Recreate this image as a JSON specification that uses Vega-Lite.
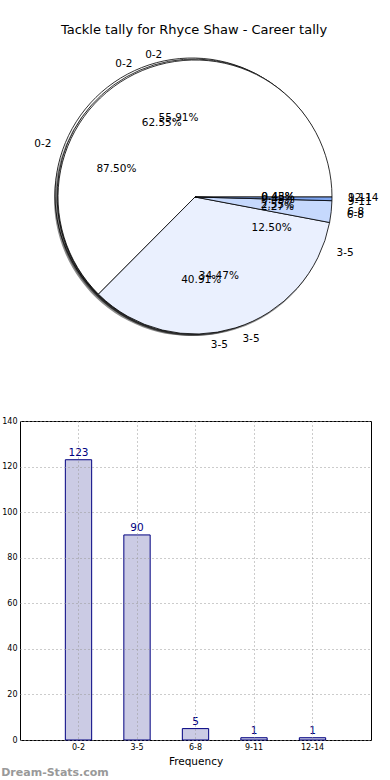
{
  "$schema": "https://vega.github.io/schema/vega-lite/v6.json",
  "padding": {"left": 1, "top": 24, "right": 0, "bottom": 0},
  "bounds": "flush",
  "spacing": 75,
  "config": {
    "font": "DejaVu Sans",
    "view": {"stroke": null},
    "title": {"font": "DejaVu Sans", "fontWeight": "normal", "color": "black"}
  },
  "title": {"text": "Dream-Stats.com", "orient": "bottom", "anchor": "start", "color": "#999999", "fontSize": 11, "fontWeight": "bold", "offset": 0},
  "datasets": {
    "pie": [
      {"pie": "A", "bin": "0-2", "i": 1, "value": 87.50, "pct": "87.50%"},
      {"pie": "A", "bin": "3-5", "i": 2, "value": 12.50, "pct": "12.50%"},
      {"pie": "B", "bin": "0-2", "i": 1, "value": 55.91, "pct": "55.91%"},
      {"pie": "B", "bin": "3-5", "i": 2, "value": 40.91, "pct": "40.91%"},
      {"pie": "B", "bin": "6-8", "i": 3, "value": 2.27, "pct": "2.27%"},
      {"pie": "B", "bin": "9-11", "i": 4, "value": 0.45, "pct": "0.45%"},
      {"pie": "B", "bin": "12-14", "i": 5, "value": 0.45, "pct": "0.45%"},
      {"pie": "C", "bin": "0-2", "i": 1, "value": 62.55, "pct": "62.55%"},
      {"pie": "C", "bin": "3-5", "i": 2, "value": 34.47, "pct": "34.47%"},
      {"pie": "C", "bin": "6-8", "i": 3, "value": 2.55, "pct": "2.55%"},
      {"pie": "C", "bin": "9-11", "i": 4, "value": 0.43, "pct": "0.43%"}
    ],
    "bars": [
      {"bin": "0-2", "count": 123},
      {"bin": "3-5", "count": 90},
      {"bin": "6-8", "count": 5},
      {"bin": "9-11", "count": 1},
      {"bin": "12-14", "count": 1}
    ]
  },
  "vconcat": [
    {
      "width": 348,
      "height": 300,
      "title": {"text": "Tackle tally for Rhyce Shaw - Career tally", "fontSize": 13, "offset": 9},
      "layer": [
        {"data": {"name": "pie"}, "transform": [{"filter": "datum.pie === 'A'"}],
         "mark": {"type": "arc", "radius": 137, "fill": "#000000", "opacity": 0.45, "xOffset": -3, "yOffset": 3},
         "encoding": {"theta": {"field": "value", "type": "quantitative", "stack": true, "scale": {"domain": [0, 100], "range": [1.5707963, -4.712389]}}, "order": {"field": "i", "type": "quantitative"}}},
        {"data": {"name": "pie"}, "transform": [{"filter": "datum.pie === 'A'"}],
         "mark": {"type": "arc", "radius": 137, "stroke": "black", "strokeWidth": 0.8, "xOffset": -2, "yOffset": -1},
         "encoding": {"theta": {"field": "value", "type": "quantitative", "stack": true, "scale": {"domain": [0, 100], "range": [1.5707963, -4.712389]}}, "order": {"field": "i", "type": "quantitative"},
           "color": {"field": "bin", "type": "nominal", "legend": null, "scale": {"domain": ["0-2", "3-5", "6-8", "9-11", "12-14"], "range": ["#ffffff", "#eaf0fe", "#c6d9fd", "#7fa6f0", "#4a78d8"]}}}},
        {"data": {"name": "pie"}, "transform": [{"filter": "datum.pie === 'B'"}],
         "mark": {"type": "arc", "radius": 137, "fill": "#000000", "opacity": 0.45, "xOffset": -2, "yOffset": 2},
         "encoding": {"theta": {"field": "value", "type": "quantitative", "stack": true, "scale": {"domain": [0, 100], "range": [1.5707963, -4.712389]}}, "order": {"field": "i", "type": "quantitative"}}},
        {"data": {"name": "pie"}, "transform": [{"filter": "datum.pie === 'B'"}],
         "mark": {"type": "arc", "radius": 137, "stroke": "black", "strokeWidth": 0.8, "xOffset": 0, "yOffset": 0},
         "encoding": {"theta": {"field": "value", "type": "quantitative", "stack": true, "scale": {"domain": [0, 100], "range": [1.5707963, -4.712389]}}, "order": {"field": "i", "type": "quantitative"},
           "color": {"field": "bin", "type": "nominal", "legend": null, "scale": {"domain": ["0-2", "3-5", "6-8", "9-11", "12-14"], "range": ["#ffffff", "#eaf0fe", "#c6d9fd", "#7fa6f0", "#4a78d8"]}}}},
        {"data": {"name": "pie"}, "transform": [{"filter": "datum.pie === 'C'"}],
         "mark": {"type": "arc", "radius": 137, "fill": "#000000", "opacity": 0.45, "xOffset": 0, "yOffset": 3},
         "encoding": {"theta": {"field": "value", "type": "quantitative", "stack": true, "scale": {"domain": [0, 100], "range": [1.5707963, -4.712389]}}, "order": {"field": "i", "type": "quantitative"}}},
        {"data": {"name": "pie"}, "transform": [{"filter": "datum.pie === 'C'"}],
         "mark": {"type": "arc", "radius": 137, "stroke": "black", "strokeWidth": 0.8, "xOffset": 1, "yOffset": 1},
         "encoding": {"theta": {"field": "value", "type": "quantitative", "stack": true, "scale": {"domain": [0, 100], "range": [1.5707963, -4.712389]}}, "order": {"field": "i", "type": "quantitative"},
           "color": {"field": "bin", "type": "nominal", "legend": null, "scale": {"domain": ["0-2", "3-5", "6-8", "9-11", "12-14"], "range": ["#ffffff", "#eaf0fe", "#c6d9fd", "#7fa6f0", "#4a78d8"]}}}},
        {"data": {"name": "pie"},
         "transform": [{"filter": "datum.pie === 'A'"}],
         "mark": {"type": "text", "radius": 84, "fontSize": 10.5, "color": "black", "dy": {"expr": "datum.bin === '0-2' ? 5 : 0"}},
         "encoding": {"theta": {"field": "value", "type": "quantitative", "stack": true, "scale": {"domain": [0, 100], "range": [1.5707963, -4.712389]}}, "order": {"field": "i", "type": "quantitative"}, "text": {"field": "pct"}}},
        {"data": {"name": "pie"},
         "transform": [{"filter": "datum.pie === 'B'"}],
         "mark": {"type": "text", "radius": 84, "fontSize": 10.5, "color": "black", "dy": {"expr": "datum.bin === '0-2' ? 5 : 0"}},
         "encoding": {"theta": {"field": "value", "type": "quantitative", "stack": true, "scale": {"domain": [0, 100], "range": [1.5707963, -4.712389]}}, "order": {"field": "i", "type": "quantitative"}, "text": {"field": "pct"}}},
        {"data": {"name": "pie"},
         "transform": [{"filter": "datum.pie === 'C'"}],
         "mark": {"type": "text", "radius": 84, "fontSize": 10.5, "color": "black", "dy": {"expr": "datum.bin === '0-2' ? 5 : 0"}},
         "encoding": {"theta": {"field": "value", "type": "quantitative", "stack": true, "scale": {"domain": [0, 100], "range": [1.5707963, -4.712389]}}, "order": {"field": "i", "type": "quantitative"}, "text": {"field": "pct"}}},
        {"data": {"name": "pie"},
         "transform": [{"filter": "datum.pie === 'A'"}],
         "mark": {"type": "text", "radius": 150, "fontSize": 10.5, "color": "black", "align": {"expr": "datum.bin === '0-2' ? 'right' : 'left'"}, "dx": {"expr": "datum.bin === '0-2' ? -4 : 4"}, "dy": {"expr": "datum.bin === '0-2' ? 5 : 0"}},
         "encoding": {"theta": {"field": "value", "type": "quantitative", "stack": true, "scale": {"domain": [0, 100], "range": [1.5707963, -4.712389]}}, "order": {"field": "i", "type": "quantitative"}, "text": {"field": "bin"}}},
        {"data": {"name": "pie"},
         "transform": [{"filter": "datum.pie === 'B'"}],
         "mark": {"type": "text", "radius": 150, "fontSize": 10.5, "color": "black", "align": {"expr": "datum.bin === '0-2' ? 'right' : 'left'"}, "dx": {"expr": "datum.bin === '0-2' ? -4 : 4"}, "dy": {"expr": "datum.bin === '0-2' ? 6 : 0"}},
         "encoding": {"theta": {"field": "value", "type": "quantitative", "stack": true, "scale": {"domain": [0, 100], "range": [1.5707963, -4.712389]}}, "order": {"field": "i", "type": "quantitative"}, "text": {"field": "bin"}}},
        {"data": {"name": "pie"},
         "transform": [{"filter": "datum.pie === 'C'"}],
         "mark": {"type": "text", "radius": 150, "fontSize": 10.5, "color": "black", "align": {"expr": "datum.bin === '0-2' ? 'right' : 'left'"}, "dx": {"expr": "datum.bin === '0-2' ? -4 : 4"}, "dy": {"expr": "datum.bin === '0-2' ? 6 : 0"}},
         "encoding": {"theta": {"field": "value", "type": "quantitative", "stack": true, "scale": {"domain": [0, 100], "range": [1.5707963, -4.712389]}}, "order": {"field": "i", "type": "quantitative"}, "text": {"field": "bin"}}}
      ]
    },
    {
      "width": 351,
      "height": 319,
      "view": {"stroke": "black", "strokeWidth": 1},
      "data": {"name": "bars"},
      "encoding": {
        "x": {"field": "bin", "type": "nominal", "sort": null,
              "scale": {"paddingInner": 0.55, "paddingOuter": 0.775},
              "axis": {"title": "Frequency", "titleFontSize": 10.5, "titleFontWeight": "normal", "titlePadding": 5, "labelAngle": 0, "labelFontSize": 8, "ticks": false, "labelPadding": 3, "domain": false,
                       "grid": true, "gridDash": [1, 3], "gridColor": "#999999", "gridWidth": 1, "bandPosition": 0.5, "zindex": 1}},
        "y": {"field": "count", "type": "quantitative",
              "scale": {"domain": [0, 140], "nice": false},
              "axis": {"title": null, "values": [0, 20, 40, 60, 80, 100, 120, 140], "labelFontSize": 8, "ticks": false, "labelPadding": 3, "domain": false,
                       "grid": true, "gridDash": [1, 3], "gridColor": "#999999", "gridWidth": 1, "zindex": 1}}
      },
      "layer": [
        {"mark": {"type": "bar", "fill": "#cbcbe4", "stroke": "#000080", "strokeWidth": 1}},
        {"mark": {"type": "text", "dy": -7, "fontSize": 10.5, "color": "#000080"}, "encoding": {"text": {"field": "count"}}}
      ]
    }
  ]
}
